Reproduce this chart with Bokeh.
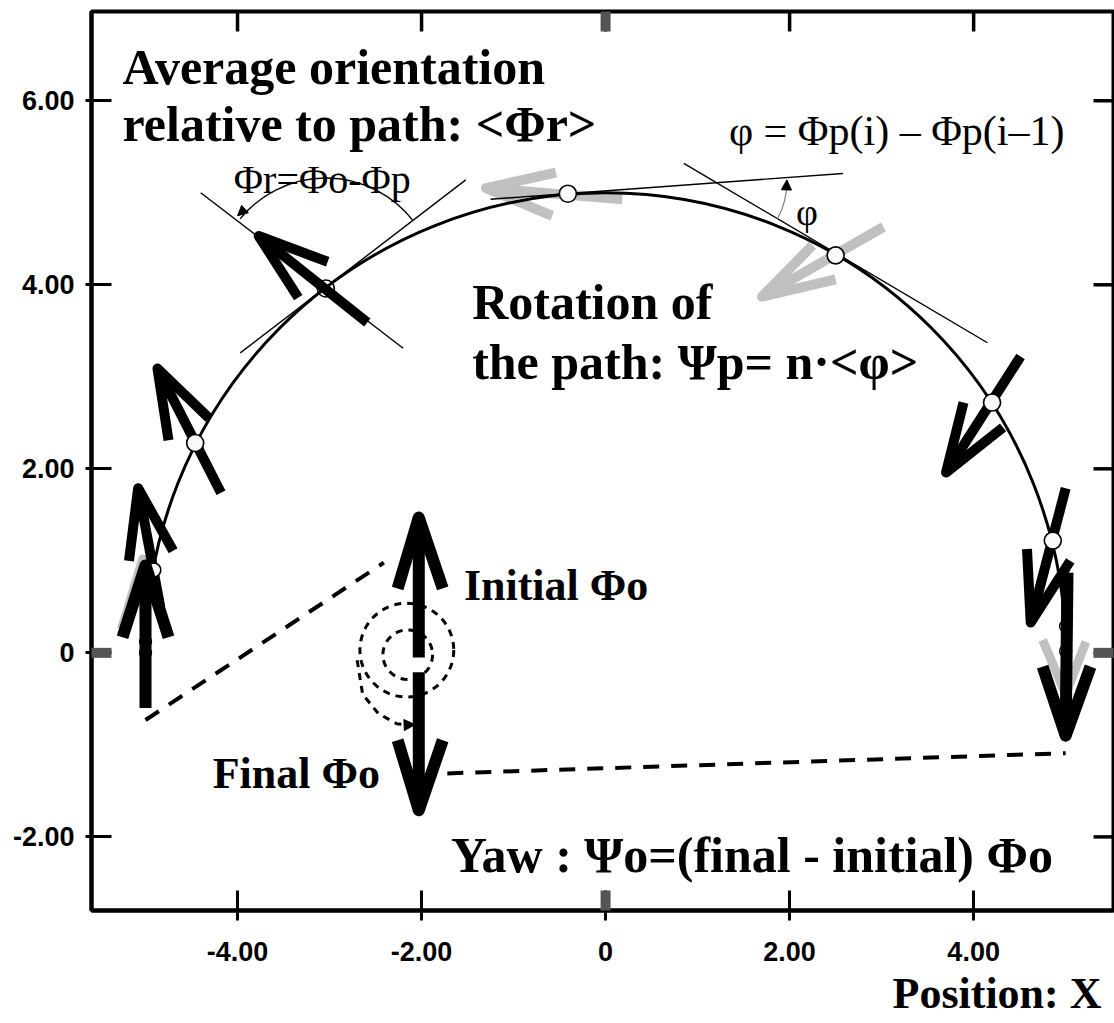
import numpy as np
from bokeh.plotting import figure
from bokeh.models import FixedTicker, Range1d, Title, Arrow, NormalHead, ColumnDataSource
from bokeh.core.properties import value
from bokeh.embed import file_html
from bokeh.resources import INLINE

# ---------------- axes ----------------
x_ticks = [-4, -2, 0, 2, 4]
x_tick_labels = ["-4.00", "-2.00", "0", "2.00", "4.00"]
y_ticks = [-2, 0, 2, 4, 6]
y_tick_labels = ["-2.00", "0", "2.00", "4.00", "6.00"]
x_min, x_max = -5.587, 5.52
y_min, y_max = -2.80, 6.97

# ---------------- path (semicircle) ----------------
path_cx, path_cy, path_r = 0.0, 0.0, 5.0
path_a0, path_a1 = 0.0, 3.14159

# sample points on the path
pt_x = [-4.91, -4.46, -0.41, 2.50, 4.20, 4.86]
pt_y = [0.90, 2.28, 4.99, 4.32, 2.72, 1.22]
pt_size = [14, 17, 17, 17, 17, 17]
open_pt_x = [-3.04]
open_pt_y = [3.96]
end_pt_x = [-5.0, -5.0, 5.0, 5.0]
end_pt_y = [0.0, 0.12, 0.29, 0.02]

# ---------------- orientation arrows ----------------
# layer: back (grey, under path), mid (black), front (start/end, above points)
ar_tail_x = [-5.00, 0.18, 3.02, 5.00, -4.84, -4.18, -2.59, 4.51, 5.00, -2.03, -2.03, -5.00, 5.02]
ar_tail_y = [-0.30, 4.93, 4.63, 0.90, 0.50, 1.74, 3.59, 3.22, 1.79, -0.05, -0.21, -0.60, 0.87]
ar_tip_x = [-5.03, -1.30, 1.70, 5.00, -5.08, -4.87, -3.77, 3.70, 4.62, -2.03, -2.03, -5.00, 5.00]
ar_tip_y = [1.02, 5.05, 3.87, -0.45, 1.79, 3.09, 4.53, 1.96, 0.33, 1.47, -1.71, 0.95, -0.90]
ar_b1_x = [-5.26, -0.54, 2.50, 4.75, -5.18, -4.75, -3.02, 3.89, 4.58, -2.26, -2.26, -5.25, 4.75]
ar_b1_y = [0.26, 5.22, 4.06, 0.14, 1.00, 2.31, 4.25, 2.72, 1.13, 0.70, -0.95, 0.17, -0.15]
ar_b2_x = [-4.77, -0.58, 2.25, 5.22, -4.70, -4.31, -3.34, 4.32, 5.05, -1.77, -1.77, -4.75, 5.27]
ar_b2_y = [0.26, 4.75, 4.43, 0.12, 1.11, 2.55, 3.86, 2.45, 1.00, 0.70, -0.95, 0.17, -0.15]
ar_color = ["#c0c0c0"] * 4 + ["black"] * 9
ar_width = [9, 10, 10, 9, 10, 10, 10, 10, 10, 12, 12, 12, 12]
ar_layer = ["back"] * 4 + ["mid"] * 7 + ["front"] * 2

# ---------------- thin construction lines ----------------
thin_x0 = [-4.40, -3.97, -1.25, 0.85]
thin_y0 = [5.00, 3.26, 4.93, 5.32]
thin_x1 = [-2.20, -1.52, 2.58, 4.15]
thin_y1 = [3.31, 5.14, 5.21, 3.37]

# angle arcs
phir_arc = dict(x=-3.04, y=3.96, r=1.2, a0=0.67, a1=2.46)
phir_head = dict(x0=-3.90, y0=4.84, x1=-4.00, y1=4.75)
phi_arc = dict(x=1.12, y=5.12, r=0.85, a0=-0.50, a1=0.02)
phi_head = dict(x0=1.965, y0=5.02, x1=1.97, y1=5.14)

# spiral (rotation of the body)
spiral_cx = [-2.15, -2.16]
spiral_cy = [-0.02, 0.03]
spiral_r = [0.27, 0.51]
spiral_tail_x = [-2.70, -2.64, -2.47, -2.27, -2.12]
spiral_tail_y = [-0.08, -0.45, -0.66, -0.77, -0.79]
spiral_head = dict(x0=-2.20, y0=-0.785, x1=-2.07, y1=-0.78)

# dashed yaw lines
dash_x0 = [-5.00, -1.72]
dash_y0 = [-0.73, -1.31]
dash_x1 = [-2.41, 5.00]
dash_y1 = [0.98, -1.09]

# ---------------- texts ----------------
bold_texts = ["Average orientation", "relative to path: <\u03a6r>", "Rotation of",
              "the path: \u03a8p= n\u00b7<\u03c6>", "Yaw : \u03a8o=(final - initial) \u03a6o"]
bold_x = [-5.25, -5.25, -1.45, -1.45, -1.68]
bold_y = [6.365, 5.745, 3.81, 3.16, -2.20]
mid_texts = ["Initial \u03a6o", "Final \u03a6o"]
mid_x = [-1.54, -4.27]
mid_y = [0.73, -1.31]
reg_texts = ["\u03a6r=\u03a6o-\u03a6p", "\u03c6 = \u03a6p(i) \u2013 \u03a6p(i\u20131)", "\u03c6"]
reg_x = [-4.04, 1.34, 2.07]
reg_y = [5.14, 5.67, 4.79]
reg_size = ["40px", "42px", "38px"]
x_title = "Position: X"

SERIF = "Liberation Serif"
SANS = "Liberation Sans"

FRAME_W, FRAME_H = 1022, 899
p = figure(width=1114, height=1023, x_range=Range1d(x_min, x_max), y_range=Range1d(y_min, y_max),
           output_backend="svg", toolbar_location=None,
           min_border_left=91, min_border_top=11, min_border_right=1, min_border_bottom=113)
p.xgrid.visible = False
p.ygrid.visible = False
p.outline_line_color = "black"
p.outline_line_width = 4
p.background_fill_color = "white"
p.border_fill_color = "white"

def style_axis(ax, ticks, labels, tick_out, standoff):
    ax.ticker = FixedTicker(ticks=ticks)
    ax.major_label_overrides = {t: l for t, l in zip(ticks, labels)}
    ax.axis_line_color = "black"
    ax.axis_line_width = 4
    ax.major_tick_line_color = "black"
    ax.major_tick_line_width = 3
    ax.major_tick_in = 20
    ax.major_tick_out = tick_out
    ax.minor_tick_line_color = None
    ax.major_label_standoff = standoff
    ax.major_label_text_font = SANS
    ax.major_label_text_font_style = "bold"
    ax.major_label_text_font_size = "27px"
    ax.major_label_text_color = "black"

style_axis(p.xaxis[0], x_ticks, x_tick_labels, 10, 21)
style_axis(p.yaxis[0], y_ticks, y_tick_labels, 6, 11)

p.add_layout(Title(text=x_title, align="right", offset=12, standoff=7,
                   text_font=SERIF, text_font_style="bold", text_font_size="44px",
                   text_color="black"), "below")

# mirrored inner ticks on top and right edges (20 px long), sizes in data units
px_x = (x_max - x_min) / FRAME_W
px_y = (y_max - y_min) / FRAME_H
tlx = 20 * px_x
tly = 20 * px_y
tick_rects_x = list(x_ticks) + [x_max - tlx / 2] * len(y_ticks)
tick_rects_y = [y_max - tly / 2] * len(x_ticks) + list(y_ticks)
tick_rects_w = [3.5 * px_x] * len(x_ticks) + [tlx] * len(y_ticks)
tick_rects_h = [tly] * len(x_ticks) + [3.5 * px_y] * len(y_ticks)
tr = p.rect(x=tick_rects_x, y=tick_rects_y, width=tick_rects_w, height=tick_rects_h,
            fill_color="black", line_color=None)
tr.level = "overlay"

# grey zero ticks on the frame
zt = p.rect(x=[0, 0, x_min + tlx / 2, x_max - tlx / 2],
            y=[y_min + tly / 2, y_max - tly / 2, 0, 0],
            width=[10 * px_x] * 2 + [tlx] * 2,
            height=[tly] * 2 + [10 * px_y] * 2,
            fill_color="#555555", line_color=None)
zt.level = "overlay"

# arrows -> multi_line sources
def arrow_source(layer):
    xs, ys, cols, wids = [], [], [], []
    for i in range(len(ar_tail_x)):
        if ar_layer[i] != layer:
            continue
        xs.append([ar_tail_x[i], ar_tip_x[i]])
        ys.append([ar_tail_y[i], ar_tip_y[i]])
        xs.append([ar_b1_x[i], ar_tip_x[i], ar_b2_x[i]])
        ys.append([ar_b1_y[i], ar_tip_y[i], ar_b2_y[i]])
        cols += [ar_color[i]] * 2
        wids += [ar_width[i]] * 2
    return ColumnDataSource(dict(xs=xs, ys=ys, c=cols, w=wids))

p.multi_line("xs", "ys", source=arrow_source("back"), line_color="c", line_width="w",
             line_join="round", line_cap="butt")

# path
p.arc(x=[path_cx], y=[path_cy], radius=path_r, start_angle=path_a0, end_angle=path_a1,
      line_color="black", line_width=3)

# thin lines
p.segment(x0=thin_x0, y0=thin_y0, x1=thin_x1, y1=thin_y1, line_color="black", line_width=1.4)
p.arc(x=[phir_arc["x"]], y=[phir_arc["y"]], radius=phir_arc["r"], start_angle=phir_arc["a0"],
      end_angle=phir_arc["a1"], line_color="black", line_width=1.4)
p.arc(x=[phi_arc["x"]], y=[phi_arc["y"]], radius=phi_arc["r"], start_angle=phi_arc["a0"],
      end_angle=phi_arc["a1"], line_color="#808080", line_width=1.2)
for h in (phir_head, phi_head):
    p.add_layout(Arrow(end=NormalHead(size=10, fill_color="black", line_color="black", line_width=1),
                       x_start=h["x0"], y_start=h["y0"], x_end=h["x1"], y_end=h["y1"], line_alpha=0))

# black arrows
p.multi_line("xs", "ys", source=arrow_source("mid"), line_color="c", line_width="w",
             line_join="round", line_cap="butt")

# path points
p.scatter(pt_x, pt_y, size=pt_size, marker="circle", fill_color="#fafafa", line_color="black", line_width=1.6)
p.scatter(open_pt_x, open_pt_y, size=17, marker="circle", fill_color=None, line_color="black", line_width=1.6)

# start / end arrows
p.multi_line("xs", "ys", source=arrow_source("front"), line_color="c", line_width="w",
             line_join="round", line_cap="butt")
p.scatter(end_pt_x, end_pt_y, size=12, marker="circle", fill_color=None, line_color="black", line_width=1.4)

# spiral
p.circle(x=spiral_cx, y=spiral_cy, radius=spiral_r, fill_color=None, line_color="black",
         line_width=3, line_dash="7 6")
p.line(spiral_tail_x, spiral_tail_y, line_color="black", line_width=3, line_dash="7 6")
p.add_layout(Arrow(end=NormalHead(size=11, fill_color="black", line_color="black", line_width=1),
                   x_start=spiral_head["x0"], y_start=spiral_head["y0"],
                   x_end=spiral_head["x1"], y_end=spiral_head["y1"], line_alpha=0))

# dashed yaw lines
p.segment(x0=dash_x0, y0=dash_y0, x1=dash_x1, y1=dash_y1, line_color="black", line_width=4,
          line_dash="16 12")

# texts
p.text(x=bold_x, y=bold_y, text=bold_texts, text_font=value(SERIF), text_font_style="bold",
       text_font_size="50px", text_baseline="alphabetic", text_align="left", text_color="black")
p.text(x=mid_x, y=mid_y, text=mid_texts, text_font=value(SERIF), text_font_style="bold",
       text_font_size="44px", text_baseline="alphabetic", text_align="left", text_color="black")
p.text(x=reg_x, y=reg_y, text=reg_texts, text_font=value(SERIF), text_font_style="normal",
       text_font_size=reg_size, text_baseline="alphabetic", text_align="left", text_color="black")

open("out.html", "w").write(file_html(p, INLINE))
